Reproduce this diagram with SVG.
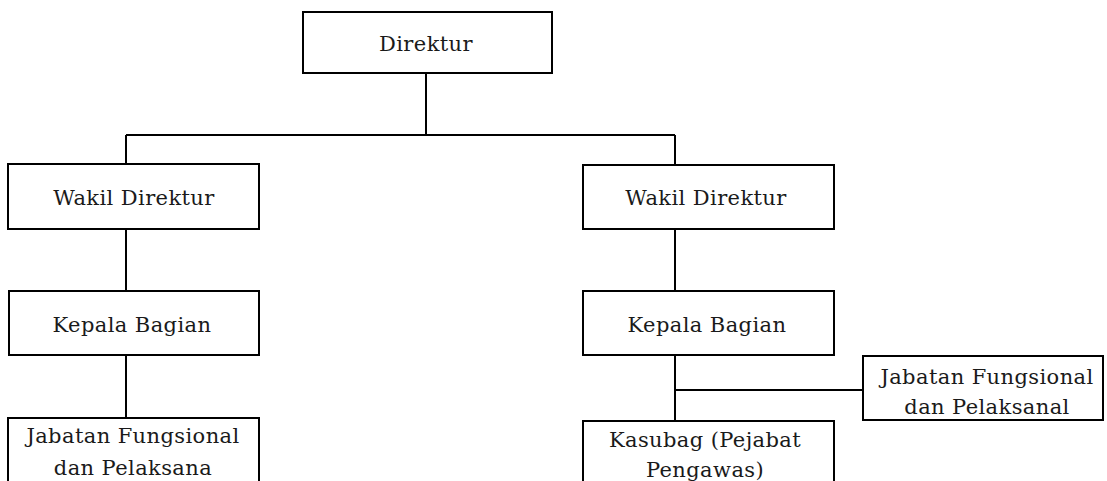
<svg xmlns="http://www.w3.org/2000/svg" width="1107" height="481" viewBox="0 0 1107 481">
<style>
.box{fill:#fff;stroke:#000;stroke-width:2}
.ln{fill:none;stroke:#000;stroke-width:2}
text{font-family:"DejaVu Serif","Liberation Serif",serif;font-size:21px;letter-spacing:0.4px;fill:#1a1a1a;text-anchor:middle}
</style>
<rect width="1107" height="481" fill="#fff"/>
<g id="connectors">
<path class="ln" d="M426 73V135M126 135H675M126 135V164M675 135V165M126 229V291M675 229V291M126 355V418M675 355V421M675 390H863"/>
</g>
<g id="direktur"><rect class="box" x="303" y="12" width="249" height="61"/><text x="426" y="51">Direktur</text></g>
<g id="wakil1"><rect class="box" x="8" y="164" width="251" height="65"/><text x="134" y="205">Wakil Direktur</text></g>
<g id="wakil2"><rect class="box" x="583" y="165" width="251" height="64"/><text x="706" y="205">Wakil Direktur</text></g>
<g id="kepala1"><rect class="box" x="9" y="291" width="250" height="64"/><text x="132" y="332">Kepala Bagian</text></g>
<g id="kepala2"><rect class="box" x="583" y="291" width="251" height="64"/><text x="707" y="332">Kepala Bagian</text></g>
<g id="jabatan1"><rect class="box" x="8" y="418" width="251" height="70"/><text x="133" y="443">Jabatan Fungsional</text><text x="133" y="475">dan Pelaksana</text></g>
<g id="jabatan2"><rect class="box" x="863" y="356" width="240" height="64"/><text x="987" y="384">Jabatan Fungsional</text><text x="987" y="414">dan Pelaksanal</text></g>
<g id="kasubag"><rect class="box" x="583" y="421" width="251" height="70"/><text x="705" y="447">Kasubag (Pejabat</text><text x="705" y="477">Pengawas)</text></g>
</svg>
